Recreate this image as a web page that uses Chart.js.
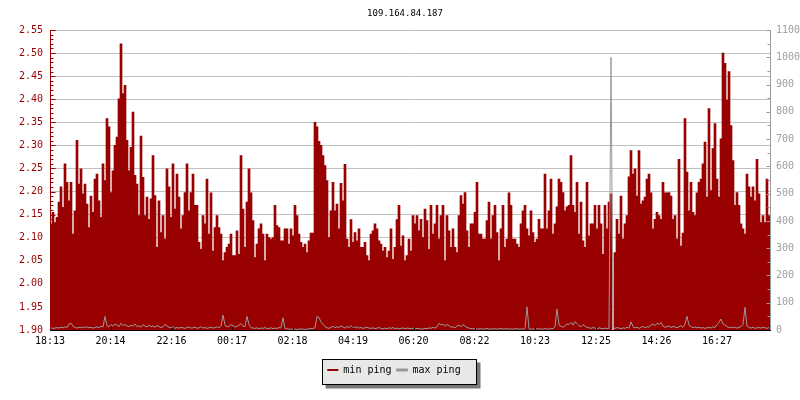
<!DOCTYPE html>
<html>
<head>
<meta charset="utf-8">
<script src="https://cdn.jsdelivr.net/npm/chart.js@4.4.0/dist/chart.umd.min.js"></script>
<style>
  html, body { margin: 0; padding: 0; background: #fff; }
</style>
</head>
<body>
<canvas id="chart1" width="800" height="400"></canvas>
<script>
const chartTitle = '109.164.84.187';

const tickLabels = ['18:13', '20:14', '22:16', '00:17', '02:18', '04:19',
                    '06:20', '08:22', '10:23', '12:25', '14:26', '16:27'];

// min ping (ms), one value per 4 minutes starting 18:13
const minPing = [
  2.13, 2.155, 2.133, 2.144, 2.177, 2.21, 2.166, 2.26, 2.22, 2.18,
  2.22, 2.108, 2.158, 2.311, 2.216, 2.249, 2.195, 2.216, 2.173, 2.122,
  2.19, 2.155, 2.227, 2.238, 2.18, 2.144, 2.26, 2.224, 2.358, 2.34,
  2.198, 2.245, 2.30, 2.318, 2.401, 2.52, 2.412, 2.43, 2.311, 2.245,
  2.296, 2.372, 2.235, 2.216, 2.148, 2.32, 2.231, 2.148, 2.188, 2.14,
  2.184, 2.278, 2.191, 2.079, 2.18, 2.111, 2.148, 2.097, 2.249, 2.21,

  2.144, 2.26, 2.162, 2.238, 2.188, 2.119, 2.148, 2.198, 2.26, 2.158,
  2.198, 2.238, 2.17, 2.17, 2.09, 2.075, 2.148, 2.13, 2.227, 2.108,
  2.197, 2.071, 2.122, 2.148, 2.122, 2.108, 2.05, 2.068, 2.079, 2.086,
  2.108, 2.061, 2.061, 2.115, 2.064, 2.278, 2.162, 2.079, 2.177, 2.249,
  2.197, 2.137, 2.057, 2.086, 2.119, 2.13, 2.108, 2.05, 2.108, 2.10,
  2.097, 2.10, 2.17, 2.126, 2.122, 2.093, 2.093, 2.119, 2.119, 2.086,
  2.119, 2.104, 2.17,

  2.148, 2.108, 2.09, 2.079, 2.086, 2.068, 2.093, 2.11, 2.11, 2.35,
  2.34, 2.309, 2.30, 2.278, 2.256, 2.224, 2.10, 2.158, 2.22, 2.158,
  2.173, 2.119, 2.218, 2.18, 2.259, 2.097, 2.079, 2.139, 2.09, 2.111,
  2.093, 2.119, 2.079, 2.079, 2.09, 2.061, 2.05, 2.108, 2.115, 2.13,
  2.119, 2.093, 2.086, 2.071, 2.079, 2.057, 2.071, 2.119, 2.053, 2.079,
  2.139, 2.17, 2.082, 2.104, 2.05, 2.061, 2.097, 2.071, 2.148, 2.13,
  2.148, 2.115,

  2.14, 2.10, 2.162, 2.137, 2.075, 2.17, 2.108, 2.13, 2.17, 2.097,
  2.148, 2.17, 2.05, 2.148, 2.115, 2.079, 2.119, 2.079, 2.068, 2.148,
  2.191, 2.173, 2.198, 2.115, 2.079, 2.13, 2.13, 2.155, 2.22, 2.108,
  2.108, 2.097, 2.097, 2.137, 2.177, 2.097, 2.148, 2.17, 2.111, 2.05,
  2.119, 2.17, 2.079, 2.097, 2.197, 2.17, 2.097, 2.097, 2.086, 2.079,
  2.13, 2.158, 2.17, 2.119, 2.104, 2.158, 2.111, 2.09, 2.097, 2.14,
  2.119, 2.119, 2.238,

  2.119, 2.158, 2.227, 2.108, 2.13, 2.167, 2.227, 2.22, 2.198, 2.158,
  2.167, 2.17, 2.278, 2.17, 2.155, 2.22, 2.108, 2.177, 2.093, 2.079,
  2.22, 2.104, 2.13, 2.13, 2.17, 2.119, 2.17, 2.13, 2.064, 2.17,
  2.119, 2.177, 2.195, null, 2.068, 2.14, 2.108, 2.19, 2.097, 2.13,
  2.148, 2.232, 2.289, 2.238, 2.249, 2.19, 2.289, 2.173, 2.18, 2.188,
  2.227, 2.238, 2.197, 2.119, 2.14, 2.155, 2.148,

  2.14, 2.22, 2.197, 2.197, 2.198, 2.19, 2.14, 2.148, 2.097, 2.27,
  2.082, 2.11, 2.358, 2.242, 2.158, 2.22, 2.155, 2.148, 2.197, 2.22,
  2.227, 2.26, 2.307, 2.188, 2.38, 2.202, 2.293, 2.347, 2.227, 2.188,
  2.314, 2.50, 2.478, 2.398, 2.46, 2.343, 2.267, 2.17, 2.198, 2.17,
  2.13, 2.119, 2.108, 2.238, 2.21, 2.188, 2.21, 2.18, 2.27, 2.195,
  2.133, 2.148, 2.133, 2.227, 2.148
];

// max ping (ms), same sampling
const maxPing = [
  8, 6, 7, 9, 7, 10, 8, 12, 9, 22, 25, 14, 9, 7, 10, 8, 11, 9, 12, 8,
  10, 7, 9, 12, 8, 14, 11, 50, 16, 12, 20, 14, 22, 18, 12, 25, 16, 20, 15, 12,
  18, 14, 22, 12, 16, 10, 20, 14, 11, 18, 12, 15, 10, 17, 13, 9, 12, 20, 15, 10,
  8, 12, 6, 9, 7, 10, 8, 6, 9, 11, 7, 8, 10, 6, 8, 12, 7, 9, 6, 8,
  10, 7, 9, 12, 8, 15, 55, 18, 12, 14, 20, 16, 11, 13, 18, 24, 14, 12, 50, 20,
  9, 7, 6, 8, 5, 7, 6, 9, 5, 6, 8, 5, 7, 6, 9, 8, 45, 6, 4, 3,
  3, 4, 3, 2, 3, 4, 3, 2, 3, 4, 5, 6, 8, 50, 45, 30, 20, 12, 8, 6,
  10, 14, 8, 12, 9, 15, 11, 7, 13, 9, 16, 8, 10, 12, 7, 9, 6, 8, 10, 7,
  6, 8, 5, 7, 9, 6, 4, 7, 5, 8, 6, 9, 5, 7, 4, 6, 8, 5, 7, 6,
  5, 7, 4, 6, 5, 3, 4, 6, 5, 8, 6, 10, 7, 12, 25, 18, 22, 14, 20, 16,
  10, 12, 8, 15, 18, 12, 20, 14, 9, 7, 5, 4, 6, 3, 4, 5, 3, 4, 6, 3,
  4, 3, 5, 3, 4, 6, 3, 4, 5, 3, 4, 3, 5, 4, 3, 4, 3, 5, 85, 4,
  3, 4, 3, 5, 3, 4, 3, 5, 4, 3, 6, 5, 12, 77, 18, 14, 10, 16, 22, 20,
  28, 18, 30, 24, 16, 12, 20, 14, 10, 8, 6, 9, 7, 5, 8, 6, 4, 7, 5, 6,
  1000, 8, 6, 9, 7, 5, 8, 6, 10, 7, 30, 12, 8, 10, 6, 9, 14, 8, 12, 10,
  18, 22, 16, 25, 20, 28, 14, 10, 12, 15, 9, 13, 11, 8, 12, 16, 10, 22, 50, 18,
  12, 9, 11, 8, 10, 7, 9, 6, 8, 10, 7, 12, 9, 20, 28, 40, 22, 18, 12, 10,
  8, 11, 9, 7, 10, 12, 20, 83, 14, 9, 7, 10, 6, 8, 9, 7, 10, 8, 6, 9
];

const STEP = 4; // minutes per sample
const startMin = 18 * 60 + 13;
const tickMinutes = tickLabels.map(t => {
    const [h, m] = t.split(':').map(Number);
    return (h * 60 + m - startMin + 1440) % 1440;
});

const minData = minPing.map((v, i) => ({x: i * STEP + STEP / 2, y: v}));
const maxData = maxPing.map((v, i) => ({x: i * STEP + STEP / 2, y: v}));

const red = '#990000';
const grey = '#999999';
const mono = 'DejaVu Sans Mono';

// rrdtool-ish decorations: inside ticks, axis lines, legend frame with shadow
const decor = {
    id: 'decor',
    afterLayout(chart) {
        chart.legend.left -= 6;
        chart.legend.right -= 6;
        chart.titleBlock.left += 5;
        chart.titleBlock.right += 5;
    },
    beforeDraw(chart) {
        const boxes = chart.legend.legendHitBoxes;
        if (!boxes || !boxes.length) return;
        const first = boxes[0], last = boxes[boxes.length - 1];
        const x0 = Math.round(first.left) - 4.5;
        const x1 = Math.round(last.left + last.width) + 15.5;
        const y0 = Math.round(first.top) - 5.5;
        const y1 = y0 + 25;
        const ctx = chart.ctx;
        ctx.save();
        ctx.fillStyle = '#777777';
        ctx.fillRect(x0 + 3, y0 + 3, x1 - x0 + 1, y1 - y0 + 1);
        ctx.fillStyle = '#e8e8e8';
        ctx.fillRect(x0, y0, x1 - x0, y1 - y0);
        ctx.strokeStyle = '#000';
        ctx.lineWidth = 1;
        ctx.strokeRect(x0, y0, x1 - x0, y1 - y0);
        ctx.restore();
    },
    afterDatasetsDraw(chart) {
        const {ctx, chartArea: a, scales} = chart;
        const seg = (color, x0, y0, x1, y1) => {
            ctx.strokeStyle = color;
            ctx.beginPath();
            ctx.moveTo(x0, y0);
            ctx.lineTo(x1, y1);
            ctx.stroke();
        };
        ctx.save();
        ctx.lineWidth = 1;
        const L = a.left + 0.5, R = a.right + 0.5, B = a.bottom + 0.5;
        // left axis minor/major ticks
        for (let k = 0; k <= 65; k++) {
            const y = Math.round(scales.y.getPixelForValue(1.9 + k * 0.01)) + 0.5;
            seg(red, L, y, L + (k % 5 === 0 ? 5 : 3), y);
        }
        // right axis ticks
        for (let k = 0; k <= 22; k++) {
            const y = Math.round(scales.y1.getPixelForValue(k * 50)) + 0.5;
            seg(grey, R, y, R - (k % 2 === 0 ? 4 : 3), y);
        }
        // bottom ticks
        tickMinutes.forEach(m => {
            const x = Math.round(scales.x.getPixelForValue(m)) + 0.5;
            seg('#000', x, B, x, B - 3);
        });
        seg(red, L, a.top, L, a.bottom + 1);
        seg(grey, R, a.top, R, a.bottom + 1);
        seg('#000', a.left, B, a.right + 1, B);
        ctx.restore();
    }
};

const config = {
    type: 'bar',
    data: {
        datasets: [{
            type: 'bar',
            label: 'min ping',
            data: minData,
            yAxisID: 'y',
            backgroundColor: red,
            borderColor: red,
            borderWidth: 0,
            barPercentage: 1,
            categoryPercentage: 1,
            order: 1
        },
        {
            type: 'line',
            label: 'max ping',
            data: maxData,
            yAxisID: 'y1',
            borderColor: grey,
            backgroundColor: grey,
            borderWidth: 1,
            pointRadius: 0,
            order: 0
        }]
    },
    options: {
        responsive: false,
        animation: false,
        layout: {
            padding: {bottom: 15}
        },
        plugins: {
            title: {
                display: true,
                text: chartTitle,
                color: '#000',
                font: {family: mono, size: 9, weight: 'normal'},
                padding: {top: 8, bottom: 11.2}
            },
            legend: {
                position: 'bottom',
                labels: {
                    color: '#000',
                    font: {family: mono, size: 10},
                    boxWidth: 11,
                    boxHeight: 2,
                    padding: 5,
                    sort: (a, b) => a.datasetIndex - b.datasetIndex
                }
            },
            tooltip: {enabled: false}
        },
        scales: {
            x: {
                type: 'linear',
                min: 0,
                max: 1440,
                offset: false,
                grid: {display: false, drawTicks: false},
                border: {color: '#000'},
                afterBuildTicks: s => { s.ticks = tickMinutes.map(v => ({value: v})); },
                afterFit: s => { s.height = 30; },
                ticks: {
                    autoSkip: false,
                    maxRotation: 0,
                    color: '#000',
                    padding: 5,
                    font: {family: mono, size: 10},
                    callback: v => tickLabels[tickMinutes.indexOf(v)]
                }
            },
            y: {
                position: 'left',
                min: 1.9,
                max: 2.55,
                grid: {color: '#c0c0c0', drawTicks: false},
                border: {color: red},
                afterFit: s => { s.width = 50; },
                ticks: {
                    stepSize: 0.05,
                    color: red,
                    padding: 7,
                    font: {family: mono, size: 10},
                    callback: v => v.toFixed(2)
                }
            },
            y1: {
                position: 'right',
                min: 0,
                max: 1100,
                grid: {drawOnChartArea: false, drawTicks: false},
                border: {color: grey},
                afterFit: s => { s.width = 30; },
                ticks: {
                    stepSize: 100,
                    color: '#a0a0a0',
                    padding: 6,
                    font: {family: mono, size: 10},
                    callback: v => String(v)
                }
            }
        }
    },
    plugins: [decor]
};

const ctx1 = document.getElementById('chart1').getContext('2d');
const chart1 = new Chart(ctx1, config);
</script>
</body>
</html>
